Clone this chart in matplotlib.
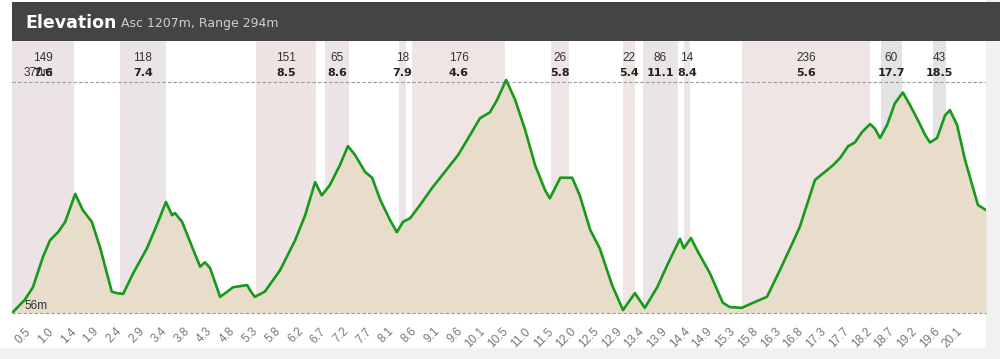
import matplotlib
matplotlib.use("Agg")
import matplotlib.pyplot as plt
import matplotlib.transforms as mtransforms
from matplotlib.patches import Rectangle
import numpy as np

# ---------------- data ----------------
dist_km = [0.00, 0.27, 0.44, 0.65, 0.80, 0.97, 1.12, 1.33, 1.49, 1.68, 1.85, 2.10, 2.21, 2.34,
           2.55, 2.84, 3.05, 3.24, 3.37, 3.43, 3.58, 3.79, 3.96, 4.06, 4.17, 4.38, 4.53, 4.65,
           4.95, 5.01, 5.11, 5.32, 5.64, 5.96, 6.17, 6.38, 6.52, 6.69, 6.90, 7.07, 7.22, 7.43,
           7.58, 7.75, 7.96, 8.10, 8.23, 8.38, 8.59, 8.84, 9.11, 9.39, 9.64, 9.85, 10.06, 10.21,
           10.40, 10.59, 10.80, 11.01, 11.22, 11.32, 11.54, 11.79, 11.95, 12.17, 12.37, 12.63,
           12.86, 13.11, 13.32, 13.58, 13.79, 14.06, 14.14, 14.29, 14.44, 14.69, 14.96, 15.11,
           15.36, 15.60, 15.89, 16.16, 16.44, 16.58, 16.90, 17.11, 17.28, 17.43, 17.60, 17.74,
           17.89, 18.06, 18.16, 18.27, 18.42, 18.58, 18.75, 18.90, 19.07, 19.22, 19.32, 19.47,
           19.64, 19.74, 19.89, 20.06, 20.21, 20.33, 20.50]
elev_m = [56, 74, 91, 132, 155, 166, 180, 218, 196, 180, 146, 85, 83, 82,
          110, 144, 176, 207, 189, 192, 180, 146, 119, 125, 117, 78, 85, 91,
          94, 87, 78, 85, 114, 155, 189, 234, 216, 230, 257, 283, 271, 248,
          240, 210, 182, 166, 180, 185, 203, 226, 248, 271, 298, 321, 329, 346,
          373, 346, 305, 257, 223, 212, 240, 240, 216, 169, 144, 94,
          60, 83, 63, 91, 121, 157, 144, 158, 139, 110, 70, 64,
          63, 70, 78, 114, 153, 173, 237, 248, 257, 267, 283, 288,
          302, 313, 307, 294, 312, 341, 356, 339, 318, 298, 288, 294,
          325, 332, 312, 264, 230, 203, 196]

climb_start = [0.00, 2.27, 5.14, 6.59, 8.15, 8.42, 11.34, 12.86, 13.28, 14.14, 15.36, 18.29, 19.38]
climb_end   = [1.30, 3.24, 6.40, 7.09, 8.29, 10.38, 11.72, 13.11, 14.02, 14.27, 18.06, 18.73, 19.66]
climb_gain  = ["149", "118", "151", "65", "18", "176", "26", "22", "86", "14", "236", "60", "43"]
climb_grade = ["7.6", "7.4", "8.5", "8.6", "7.9", "4.6", "5.8", "5.4", "11.1", "8.4", "5.6", "17.7", "18.5"]
band_colors = ["#ebe3e5", "#eae4e6", "#eee4e4", "#ede5e5", "#ebe5e6", "#efe5e5", "#efe5e5",
               "#efe5e5", "#e9e4e6", "#ebe5e6", "#efe5e5", "#e3e3e3", "#e3e3e3"]

tick_labels = ["0.5", "1.0", "1.4", "1.9", "2.4", "2.9", "3.4", "3.8", "4.3", "4.8", "5.3",
               "5.8", "6.2", "6.7", "7.2", "7.7", "8.1", "8.6", "9.1", "9.6", "10.1", "10.5",
               "11.0", "11.5", "12.0", "12.5", "12.9", "13.4", "13.9", "14.4", "14.9", "15.3",
               "15.8", "16.3", "16.8", "17.3", "17.7", "18.2", "18.7", "19.2", "19.6", "20.1"]

top_ref, bottom_ref = 370, 56
title = "Elevation"
subtitle = "Asc 1207m, Range 294m"

# ---------------- layout ----------------
W, H = 1000, 359
fig = plt.figure(figsize=(W / 100, H / 100), dpi=100)
fig.patch.set_facecolor("white")

def fx(px):
    return px / W

def fy(py):
    return 1 - py / H

# outer light strips
fig.patches.append(Rectangle((fx(986), 0), 1 - fx(986), 1, transform=fig.transFigure,
                             facecolor="#f1f1f1", edgecolor="none", zorder=0))
fig.patches.append(Rectangle((0, 0), 1, fy(348), transform=fig.transFigure,
                             facecolor="#f1f1f1", edgecolor="none", zorder=0))
# header
fig.patches.append(Rectangle((fx(12), fy(41)), 1 - fx(12), fy(2) - fy(41),
                             transform=fig.transFigure, facecolor="#444444",
                             edgecolor="none", zorder=1))
fig.text(fx(25), fy(23), title, color="white", fontsize=12.5, fontweight="bold",
         family="DejaVu Sans", va="center", ha="left")
fig.text(fx(121), fy(24), subtitle, color="#cfcfcf", fontsize=9,
         family="DejaVu Sans", va="center", ha="left")

ax = fig.add_axes([fx(12), fy(313), fx(986) - fx(12), fy(41) - fy(313)])
ax.set_zorder(2)
ax.set_xlim(0, 20.5)
ax.set_ylim(56, 426)
for s in ax.spines.values():
    s.set_visible(False)
ax.set_facecolor("white")

for x0, x1, c in zip(climb_start, climb_end, band_colors):
    ax.axvspan(x0, x1, color=c, lw=0, zorder=1)

ax.fill_between(dist_km, elev_m, 56, color="#e8dccb", lw=0, zorder=2)
ax.plot(dist_km, elev_m, color="#17991a", lw=1.9, zorder=4, solid_joinstyle="round")

ax.axhline(top_ref, color="#9a9a9a", lw=0.8, ls=(0, (3, 2)), zorder=3)
ax.axhline(bottom_ref, color="#9a9a9a", lw=0.8, ls=(0, (3, 2)), zorder=3, clip_on=False)

trans = mtransforms.blended_transform_factory(ax.transData, ax.transAxes)
def ay(py):
    return (313 - py) / 272

for x0, x1, g, gr in zip(climb_start, climb_end, climb_gain, climb_grade):
    xc = (x0 + x1) / 2
    ax.text(xc, ay(58), g, transform=trans, ha="center", va="center",
            fontsize=8.5, family="Liberation Sans", color="#333333", zorder=6)
    ax.text(xc, ay(73), gr, transform=trans, ha="center", va="center",
            fontsize=8, family="DejaVu Sans", fontweight="bold", color="#222222", zorder=6)

fig.text(fx(24), fy(73), f"{top_ref}m", fontsize=8.5, family="Liberation Sans",
         color="#333333", va="center", ha="left", zorder=7)
fig.text(fx(24), fy(306), f"{bottom_ref}m", fontsize=8.5, family="Liberation Sans",
         color="#333333", va="center", ha="left", zorder=7)

tick_pos = 0.442 + 0.4784 * np.arange(len(tick_labels))
ax.set_xticks(tick_pos)
ax.set_xticklabels(tick_labels, rotation=45, ha="right", fontsize=8.5,
                   family="Liberation Sans", color="#777777")
ax.tick_params(axis="x", length=0, pad=9)
ax.set_yticks([])

fig.savefig("out.png", dpi=100)
